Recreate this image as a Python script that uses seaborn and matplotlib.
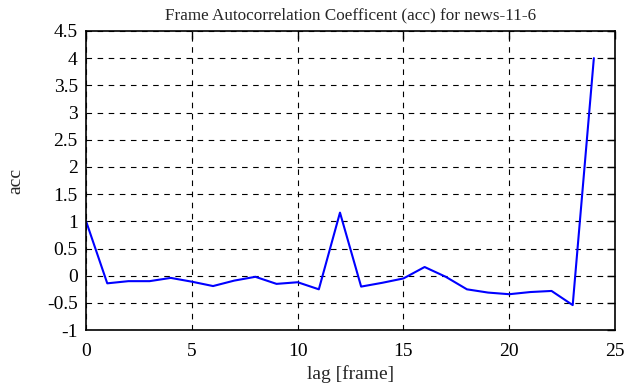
import matplotlib
matplotlib.use("Agg")
import matplotlib.pyplot as plt
import seaborn as sns
import pandas as pd

lags = list(range(25))
acc = [1.0, -0.14, -0.1, -0.1, -0.04, -0.11, -0.19, -0.09, -0.02, -0.15, -0.12, -0.25,
       1.16, -0.2, -0.13, -0.05, 0.16, -0.02, -0.25, -0.31, -0.34, -0.3, -0.28, -0.54, 4.0]
xticks = [0, 5, 10, 15, 20, 25]
yticks = [-1, -0.5, 0, 0.5, 1, 1.5, 2, 2.5, 3, 3.5, 4, 4.5]

sns.set_style("white")
plt.rcParams['font.family'] = ['Liberation Serif', 'DejaVu Serif']

df = pd.DataFrame({"lag": lags, "acc": acc})
fig = plt.figure(figsize=(6.24, 3.87), dpi=100)
ax = fig.add_axes([0.138, 0.147, 0.8476, 0.773])
sns.lineplot(data=df, x="lag", y="acc", ax=ax, color="#0000ff", linewidth=1.5)
ax.set_xlim(0, 25)
ax.set_ylim(-1, 4.5)
ax.set_xticks(xticks)
ax.set_yticks(yticks)
ax.set_xticklabels([str(t) for t in xticks])
ax.set_yticklabels([("%g" % t) for t in yticks])
ax.grid(True, color="black", linestyle=(0, (5, 5)), linewidth=0.8)
for s in ax.spines.values():
    s.set_color("black")
    s.set_linewidth(1.2)
    s.set_visible(True)
ax.tick_params(direction="in", length=6, width=1, top=True, right=True,
               labelsize=14, colors="black")
ax.tick_params(axis="x", pad=9)
ax.tick_params(axis="y", pad=6)
ax.set_xlabel("lag [frame]", fontsize=14, labelpad=4)
ax.set_ylabel("acc", fontsize=14, labelpad=16)
ax.set_title("Frame Autocorrelation Coefficent (acc) for news-11-6", fontsize=12.3, pad=8)
fig.savefig("out.png", dpi=100)
